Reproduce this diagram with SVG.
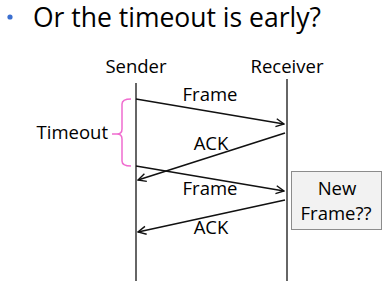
<svg xmlns="http://www.w3.org/2000/svg" width="392" height="292" viewBox="0 0 392 292">
<defs>
<marker id="ah" viewBox="0 0 10 10" refX="9" refY="5" markerWidth="10" markerHeight="10" markerUnits="userSpaceOnUse" orient="auto">
<path d="M1,1 L9,5 L1,9" fill="none" stroke="#111" stroke-width="1.4"/>
</marker>
<style>
text{font-family:"Open Sans","Liberation Sans",sans-serif;fill:#000}
.lbl{font-size:18.5px;text-anchor:middle}
.life{stroke:#333;stroke-width:1.5}
.msg{stroke:#111;stroke-width:1.6;fill:none;marker-end:url(#ah)}
</style>
</defs>
<rect width="392" height="292" fill="#fff"/>
<g id="title">
<circle cx="10" cy="17" r="2.6" fill="#3b6fd0"/>
<text x="33" y="27" font-size="26.5px">Or the timeout is early?</text>
</g>
<g id="sender">
<text class="lbl" x="136" y="73">Sender</text>
<line class="life" x1="136" y1="83" x2="136" y2="281"/>
</g>
<g id="receiver">
<text class="lbl" x="287" y="73">Receiver</text>
<line class="life" x1="287" y1="79" x2="287" y2="281"/>
</g>
<g id="timeout">
<path d="M131,99 Q122,99 122,104 L122,129 Q122,134 117,134 L112,134 M117,134 Q122,134 122,139 L122,161 Q122,166 131,166" fill="none" stroke="#f06ccf" stroke-width="1.5"/>
<text x="108" y="139" font-size="18.5px" text-anchor="end">Timeout</text>
</g>
<g id="newframe">
<rect x="291.5" y="171.5" width="90" height="58" fill="#f2f2f2" stroke="#8c8c8c" stroke-width="1"/>
<text class="lbl" x="337" y="195">New</text>
<text class="lbl" x="336" y="220">Frame??</text>
</g>
<g id="connectors">
<line class="msg" x1="136" y1="99" x2="284" y2="124"/>
<line class="msg" x1="285" y1="133" x2="138" y2="180"/>
<line class="msg" x1="136" y1="166" x2="284" y2="191"/>
<line class="msg" x1="285" y1="200" x2="138" y2="232"/>
<text class="lbl" x="210" y="101">Frame</text>
<text class="lbl" x="211" y="150">ACK</text>
<text class="lbl" x="210" y="195">Frame</text>
<text class="lbl" x="211" y="234">ACK</text>
</g>
</svg>
